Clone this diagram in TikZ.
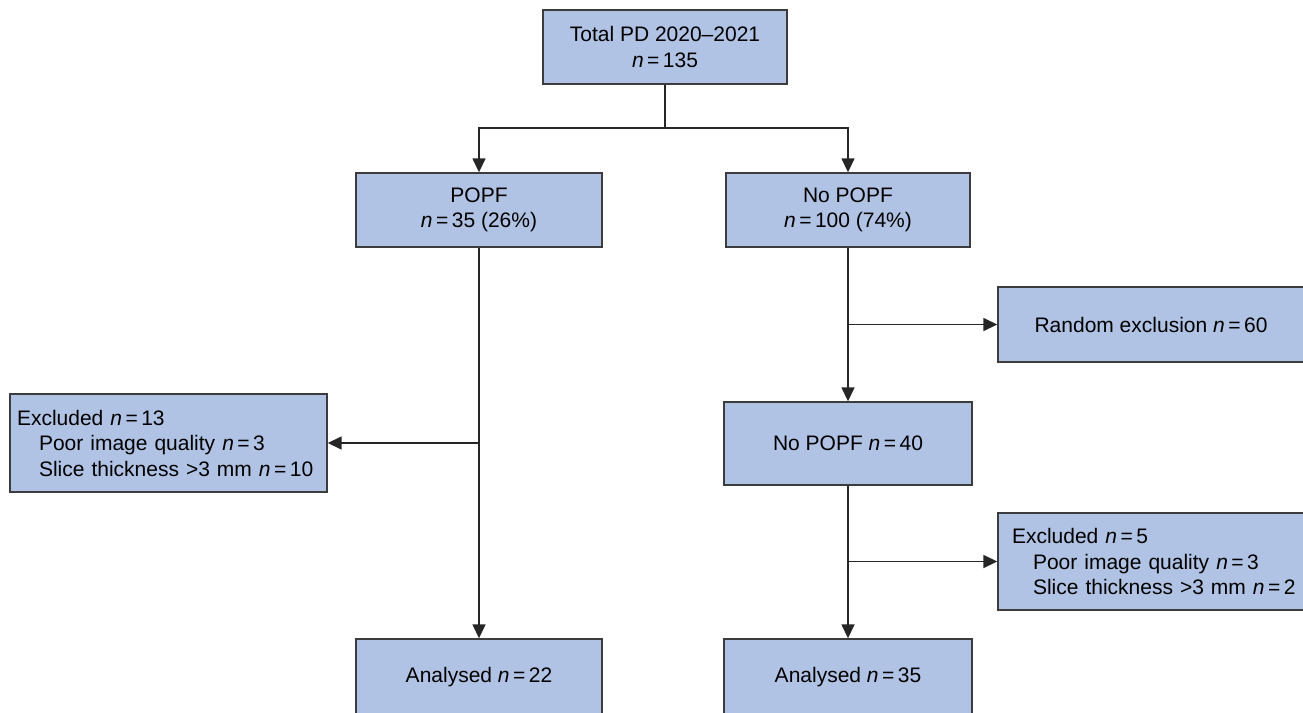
\documentclass[tikz,border=0pt]{standalone}
\usepackage{fontspec}
\setmainfont{Liberation Sans}
\usetikzlibrary{arrows.meta}
\definecolor{boxfill}{RGB}{176,195,228}
\definecolor{boxline}{RGB}{60,60,60}
\newcommand\nval{\textit{n}\kern3.5pt=\kern3.5pt}
\begin{document}
\begin{tikzpicture}[x=1pt,y=-1pt,
  box/.style={draw=boxline, fill=boxfill, line width=1.4pt, inner sep=0pt, align=center, font=\fontsize{21}{25.5}\selectfont},
  lbox/.style={box, align=left},
  conn/.style={draw=black!85, line width=1.5pt},
  arr/.style={conn, -{Triangle[length=14pt,width=13pt]}}]
\useasboundingbox (0,0) rectangle (1303,712);
\node[box, minimum width=244pt, minimum height=74pt] (top) at (665,47) {Total PD 2020--2021\\\nval 135};
\node[box, minimum width=246pt, minimum height=74pt] (popf) at (479,210) {POPF\\\nval 35 (26\%)};
\node[box, minimum width=244pt, minimum height=74pt] (nopopf) at (848,210) {No POPF\\\nval 100 (74\%)};
\node[box, minimum width=306pt, minimum height=75pt] (rand) at (1151,324.5) {Random exclusion \nval 60};
\node[box, minimum width=248pt, minimum height=83pt] (np40) at (848,443.5) {No POPF \nval 40};
\node[lbox, text width=303pt, inner xsep=7pt, minimum height=98pt] (excl13) at (168.5,443) {Excluded \nval 13\\\hspace*{22pt}Poor image quality \nval 3\\\hspace*{22pt}Slice thickness >3 mm \nval 10};
\node[lbox, text width=300pt, inner xsep=14pt, minimum height=97pt] (excl5) at (1162,561.5) {Excluded \nval 5\\\hspace*{21pt}Poor image quality \nval 3\\\hspace*{21pt}Slice thickness >3 mm \nval 2};
\node[box, minimum width=246pt, minimum height=77pt] (an22) at (479,677.5) {Analysed \nval 22};
\node[box, minimum width=248pt, minimum height=77pt] (an35) at (848,677.5) {Analysed \nval 35};

\coordinate (split) at (top.south |- 0,128);
\draw[conn] (top.south) -- (split);
\draw[arr] (split) -| (popf.north);
\draw[arr] (split) -| (nopopf.north);
\draw[arr] (popf.south) -- (an22.north);
\coordinate (b1) at (popf.south |- excl13.east);
\draw[arr] (b1) -- (excl13.east);
\draw[arr] (nopopf.south) -- (np40.north);
\coordinate (b2) at (nopopf.south |- rand.west);
\draw[arr] (b2) -- (rand.west);
\draw[arr] (np40.south) -- (an35.north);
\coordinate (b3) at (np40.south |- excl5.west);
\draw[arr] (b3) -- (excl5.west);
\end{tikzpicture}
\end{document}
